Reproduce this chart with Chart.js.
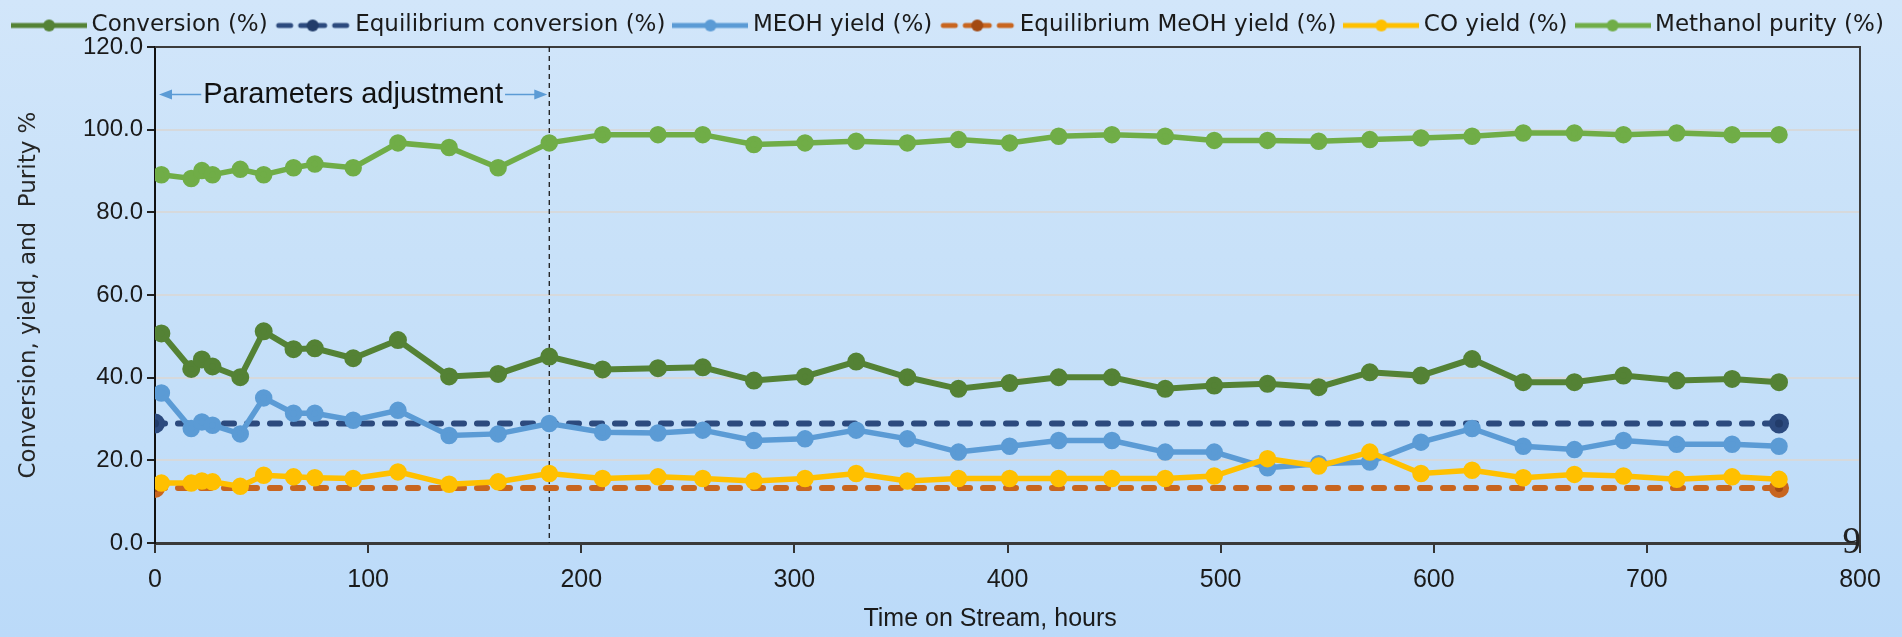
<!DOCTYPE html>
<html>
<head>
<meta charset="utf-8">
<script src="https://cdn.jsdelivr.net/npm/chart.js@4.4.1/dist/chart.umd.min.js"></script>
<style>
  html, body { margin: 0; padding: 0; }
  body {
    width: 1902px; height: 637px; overflow: hidden;
    background: linear-gradient(to bottom, #d2e6fa 0%, #cae2f9 30%, #c2def9 70%, #bbdaf9 100%);
  }
</style>
</head>
<body>
<canvas id="chart" width="1902" height="637"></canvas>
<script>
// time on stream (hours) for the measured series
const hours = [3, 17, 22, 27, 40, 51, 65, 75, 93, 114, 138, 161, 185,
  210, 236, 257, 281, 305, 329, 353, 377, 401,
  424, 449, 474, 497, 522, 546, 570, 594, 618,
  642, 666, 689, 714, 740, 762];

const conversion = [50.7, 42.1, 44.4, 42.7, 40.1, 51.2, 46.9, 47.1, 44.7, 49.1, 40.3, 40.9, 45.1,
  42.0, 42.3, 42.5, 39.3, 40.3, 43.9, 40.1, 37.3, 38.7,
  40.1, 40.1, 37.3, 38.1, 38.5, 37.7, 41.3, 40.5, 44.5,
  38.9, 38.9, 40.5, 39.3, 39.7, 38.9];

const meohYield = [36.3, 27.7, 29.3, 28.5, 26.4, 35.1, 31.4, 31.4, 29.7, 32.1, 26.0, 26.4, 28.9,
  26.8, 26.6, 27.3, 24.8, 25.2, 27.3, 25.2, 22.0, 23.4,
  24.8, 24.8, 22.0, 22.0, 18.2, 19.2, 19.6, 24.4, 27.7,
  23.4, 22.6, 24.8, 23.9, 23.9, 23.4];

const coYield = [14.5, 14.5, 15.0, 14.8, 13.7, 16.4, 16.0, 15.8, 15.6, 17.2, 14.2, 14.8, 16.8,
  15.6, 16.0, 15.6, 15.0, 15.6, 16.8, 15.0, 15.6, 15.6,
  15.6, 15.6, 15.6, 16.2, 20.4, 18.6, 22.0, 16.8, 17.6,
  15.8, 16.6, 16.2, 15.4, 16.0, 15.4];

const purity = [89.1, 88.2, 90.1, 89.1, 90.4, 89.1, 90.8, 91.7, 90.8, 96.8, 95.7, 90.8, 96.8,
  98.8, 98.8, 98.8, 96.4, 96.8, 97.2, 96.8, 97.6, 96.8,
  98.4, 98.8, 98.4, 97.4, 97.4, 97.2, 97.6, 98.0, 98.4,
  99.2, 99.2, 98.8, 99.2, 98.8, 98.8];

// equilibrium lines, only the two end points
const eqHours = [0, 762];
const eqConversion = [28.9, 28.9];
const eqMeohYield = [13.3, 13.3];

const adjustEnd = 185;   // end of the parameters adjustment period (hours)
const xTicks = [0, 800, 100];     // min, max, step
const yTicks = [0, 120, 20];

const pts = (xs, ys) => xs.map((x, i) => ({ x: x, y: ys[i] }));

const sans = '"Liberation Sans", Arial, sans-serif';

// little line+dot pictures for the legend
function legendSample(color, dotColor, dashed) {
  const c = document.createElement('canvas');
  c.width = 76; c.height = 16;
  const g = c.getContext('2d');
  g.strokeStyle = color;
  g.lineWidth = 5;
  g.beginPath();
  if (dashed) {
    g.lineCap = 'round';
    g.moveTo(4, 8); g.lineTo(16, 8);
    g.moveTo(26, 8); g.lineTo(50, 8);
    g.moveTo(60, 8); g.lineTo(72, 8);
  } else {
    g.moveTo(0, 8); g.lineTo(76, 8);
  }
  g.stroke();
  g.fillStyle = dotColor;
  g.beginPath(); g.arc(38, 8, 6, 0, Math.PI * 2); g.fill();
  return c;
}

const samples = [
  legendSample('#548235', '#548235', false),
  legendSample('#2c4a7e', '#223c6a', true),
  legendSample('#5b9bd5', '#5b9bd5', false),
  legendSample('#c8651f', '#a34a12', true),
  legendSample('#ffc000', '#ffc000', false),
  legendSample('#70ad47', '#70ad47', false)
];

const framePlugin = {
  id: 'frame',
  beforeDatasetsDraw(chart) {
    const { ctx, chartArea: a, scales: { x, y } } = chart;
    ctx.save();
    // plot box top and right
    ctx.strokeStyle = '#3c3c3c';
    ctx.lineWidth = 2;
    ctx.beginPath();
    ctx.moveTo(a.left, a.top); ctx.lineTo(a.right, a.top); ctx.lineTo(a.right, a.bottom);
    ctx.stroke();

    // end of adjustment marker
    const xa = x.getPixelForValue(adjustEnd);
    ctx.setLineDash([5, 4]);
    ctx.lineWidth = 1.3;
    ctx.strokeStyle = '#1a1a1a';
    ctx.beginPath(); ctx.moveTo(xa, a.top); ctx.lineTo(xa, a.bottom); ctx.stroke();
    ctx.setLineDash([]);

    // double arrow with label
    const ya = y.getPixelForValue(108.5);
    const x0 = x.getPixelForValue(0) + 4;
    const x1 = xa - 2;
    ctx.font = '29px ' + sans;
    ctx.fillStyle = '#111';
    ctx.textAlign = 'center';
    ctx.textBaseline = 'middle';
    const label = 'Parameters adjustment';
    const mid = (x0 + x1) / 2;
    const tw = ctx.measureText(label).width;
    ctx.fillText(label, mid, ya);
    ctx.strokeStyle = '#5b9bd5';
    ctx.fillStyle = '#5b9bd5';
    ctx.lineWidth = 1.5;
    ctx.beginPath();
    ctx.moveTo(x0 + 10, ya); ctx.lineTo(mid - tw / 2 - 2, ya);
    ctx.moveTo(mid + tw / 2 + 2, ya); ctx.lineTo(x1 - 10, ya);
    ctx.stroke();
    ctx.beginPath();
    ctx.moveTo(x0, ya); ctx.lineTo(x0 + 13, ya - 5); ctx.lineTo(x0 + 13, ya + 5); ctx.closePath();
    ctx.moveTo(x1, ya); ctx.lineTo(x1 - 13, ya - 5); ctx.lineTo(x1 - 13, ya + 5); ctx.closePath();
    ctx.fill();
    ctx.restore();
  },
  afterDraw(chart) {
    // slide page number in the corner
    const { ctx, chartArea: a } = chart;
    ctx.save();
    ctx.font = '37px "Liberation Serif", "Times New Roman", serif';
    ctx.fillStyle = '#222';
    ctx.textAlign = 'right';
    ctx.textBaseline = 'alphabetic';
    ctx.fillText('9', a.right + 1, a.bottom + 10);
    ctx.restore();
  }
};

const ctx = document.getElementById('chart');
const chart = new Chart(ctx, {
  type: 'line',
  data: {
    datasets: [
      { label: 'Conversion (%)', data: pts(hours, conversion), borderColor: '#548235', backgroundColor: '#548235',
        borderWidth: 6, pointRadius: 6, order: 6 },
      { label: 'Equilibrium conversion (%)', data: pts(eqHours, eqConversion), borderColor: '#2c4a7e', backgroundColor: '#223c6a',
        borderWidth: 6, borderDash: [10, 13], borderCapStyle: 'round', pointRadius: 7, order: 5 },
      { label: 'MEOH yield (%)', data: pts(hours, meohYield), borderColor: '#5b9bd5', backgroundColor: '#5b9bd5',
        borderWidth: 5.5, pointRadius: 6, order: 4 },
      { label: 'Equilibrium MeOH yield (%)', data: pts(eqHours, eqMeohYield), borderColor: '#c8651f', backgroundColor: '#a34a12',
        borderWidth: 6, borderDash: [10, 13], borderCapStyle: 'round', pointRadius: 7, order: 3 },
      { label: 'CO yield (%)', data: pts(hours, coYield), borderColor: '#ffc000', backgroundColor: '#ffc000',
        borderWidth: 5.5, pointRadius: 6, order: 2 },
      { label: 'Methanol purity (%)', data: pts(hours, purity), borderColor: '#70ad47', backgroundColor: '#70ad47',
        borderWidth: 5.5, pointRadius: 6, order: 1 }
    ]
  },
  options: {
    responsive: false,
    animation: false,
    events: [],
    elements: { line: { tension: 0 }, point: { borderWidth: 0 } },
    layout: { padding: 0 },
    plugins: {
      tooltip: { enabled: false },
      legend: {
        position: 'top',
        labels: {
          usePointStyle: true,
          pointStyleWidth: 62,
          boxHeight: 16,
          padding: 14,
          color: '#1a1a1a',
          font: { family: '"DejaVu Sans", sans-serif', size: 23 },
          generateLabels(chart) {
            return chart.data.datasets.map((ds, i) => ({
              text: ds.label, pointStyle: samples[i], datasetIndex: i, hidden: false,
              fillStyle: ds.borderColor, strokeStyle: ds.borderColor, lineWidth: 0, fontColor: '#1a1a1a'
            }));
          }
        }
      }
    },
    scales: {
      x: {
        type: 'linear', min: xTicks[0], max: xTicks[1],
        ticks: { stepSize: xTicks[2], color: '#1a1a1a', padding: 12,
          font: { family: sans, size: 25 } },
        grid: { drawOnChartArea: false, tickLength: 10, tickColor: '#333', lineWidth: 2 },
        border: { color: '#3a3a3a', width: 3 },
        title: { display: true, text: 'Time on Stream, hours\u00a0\u00a0\u00a0\u00a0\u00a0', color: '#1a1a1a',
          font: { family: sans, size: 25 }, padding: { top: 0, bottom: 3 } },
        afterFit(s) { s.height = 94; }
      },
      y: {
        min: yTicks[0], max: yTicks[1],
        ticks: { stepSize: yTicks[2], color: '#1a1a1a', padding: 4,
          font: { family: sans, size: 24 },
          callback: v => v.toFixed(1) },
        grid: { color: c => (c.tick && (c.tick.value === 0 || c.tick.value === 120)) ? 'rgba(0,0,0,0)' : '#d6d9dc',
          lineWidth: 2, tickLength: 8, tickColor: '#222' },
        border: { color: '#111', width: 2 },
        title: { display: true, text: 'Conversion, yield, and  Purity %', color: '#262626',
          font: { family: '"DejaVu Sans", sans-serif', size: 23 }, padding: { top: 15, bottom: 0 } },
        afterFit(s) { s.width = 155; }
      },
      // empty strip on the right, keeps the plot box off the edge
      right: {
        position: 'right', display: true,
        ticks: { display: false }, grid: { display: false }, border: { display: false },
        afterFit(s) { s.width = 42; }
      }
    }
  },
  plugins: [framePlugin]
});
</script>
</body>
</html>
